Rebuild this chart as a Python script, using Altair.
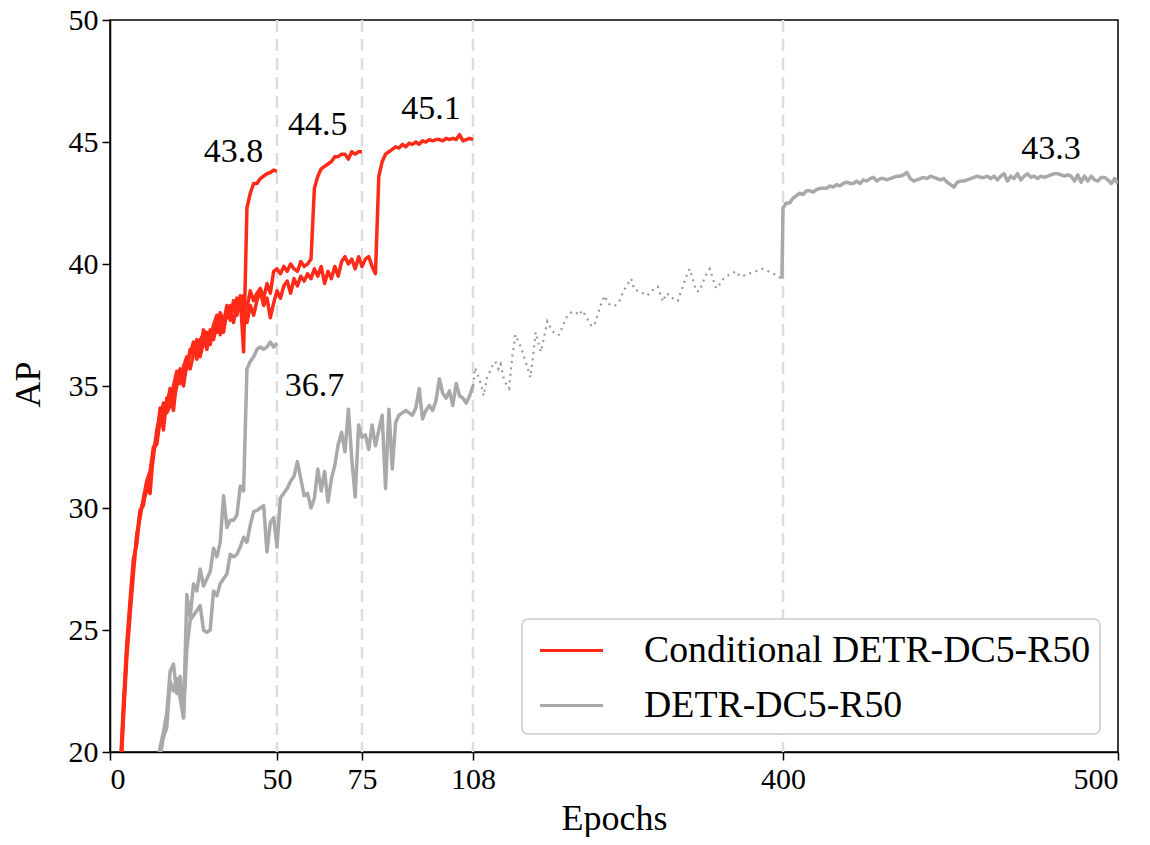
import altair as alt
import pandas as pd

COND = "Conditional DETR-DC5-R50"
DETR = "DETR-DC5-R50"

epoch_ticks = [0, 50, 75, 108, 400, 500]
ap_ticks = [20, 25, 30, 35, 40, 45, 50]
schedule_ends = [50, 75, 108, 400]

# Conditional DETR, 50-epoch schedule (epochs 1..50)
cond50_ap = [12.0, 15.5, 18.8, 21.6, 24.1, 25.9, 27.6, 28.8, 29.9, 30.1,
             31.0, 30.6, 32.3, 32.9, 34.1, 33.2, 34.5, 34.6, 34.0, 35.3,
             35.7, 35.0, 35.9, 36.3, 36.8, 36.1, 36.9, 37.1, 36.5, 37.3,
             36.9, 37.6, 37.8, 37.2, 38.1, 37.7, 38.5, 37.9, 38.7, 36.4,
             42.3, 42.9, 43.3, 43.3, 43.5, 43.6, 43.7, 43.75, 43.85, 43.8]

# Conditional DETR, 75-epoch schedule (epochs 1..75)
cond75_ap = [12.3, 15.8, 19.1, 21.9, 24.4, 26.2, 27.9, 28.5, 29.8, 30.3,
             30.7, 31.3, 32.1, 33.2, 33.8, 33.8, 34.2, 34.9, 34.4, 35.0,
             35.4, 35.6, 35.7, 36.5, 36.4, 36.6, 36.5, 37.3, 36.9, 37.0,
             37.4, 37.2, 38.0, 37.7, 37.8, 38.3, 38.1, 38.6, 38.4, 38.0,
             38.2, 38.9, 38.5, 38.8, 39.0, 38.6, 39.2, 38.8, 39.7, 39.8,
             39.6, 39.9, 39.7, 40.0, 39.8, 39.7, 40.1, 39.9, 40.0, 40.2,
             43.1, 43.6, 43.9, 44.0, 44.1, 44.2, 44.4, 44.4, 44.5, 44.5,
             44.3, 44.6, 44.5, 44.6, 44.6]

# Conditional DETR, 108-epoch schedule (epochs 1..108)
cond108_ap = [11.8, 15.2, 18.5, 21.3, 23.8, 25.6, 27.3, 28.9, 29.6, 30.4,
              31.1, 31.5, 32.5, 32.6, 33.6, 34.3, 33.9, 34.2, 35.0, 35.6,
              35.1, 35.8, 36.2, 35.7, 36.3, 36.9, 36.2, 36.8, 37.2, 36.7,
              37.5, 37.9, 37.1, 37.6, 38.3, 38.0, 37.6, 38.4, 38.2, 38.7,
              37.6, 38.3, 37.9, 38.5, 38.9, 38.3, 38.6, 37.8, 38.4, 38.9,
              38.6, 39.1, 39.3, 38.8, 39.4, 39.1, 39.5, 39.3, 39.6, 39.4,
              39.8, 39.5, 39.9, 39.2, 39.7, 39.4, 39.9, 39.5, 40.1, 40.3,
              40.0, 40.2, 39.8, 40.3, 39.9, 40.2, 40.3, 39.9, 39.6, 43.6,
              44.2, 44.5, 44.6, 44.7, 44.8, 44.75, 44.9, 44.8, 44.95, 44.9,
              45.0, 44.9, 45.05, 45.0, 45.1, 45.05, 45.1, 45.1, 45.05, 45.15,
              45.1, 45.15, 45.1, 45.3, 45.05, 45.1, 45.15, 45.1]

# DETR, 50-epoch schedule (epochs 14..50)
detr50_ap = [19.4, 20.2, 20.8, 21.6, 23.3, 23.6, 22.4, 23.1, 21.4, 26.45,
             25.5, 26.9, 26.6, 27.5, 26.8, 27.1, 27.4, 28.35, 28.0, 28.6,
             30.5, 29.2, 29.5, 29.5, 29.7, 30.9, 30.7, 35.7, 36.0, 36.2,
             36.5, 36.6, 36.5, 36.6, 36.8, 36.6, 36.75]

# DETR, 500-epoch schedule, solid part (epochs 15..108)
detr500_early_ap = [19.8, 20.6, 21.0, 22.9, 22.5, 23.0, 22.2, 21.4, 24.2, 25.4,
                    25.6, 25.8, 26.0, 25.0, 24.9, 25.0, 26.6, 26.4, 26.9, 27.1,
                    27.3, 28.1, 28.0, 28.1, 28.4, 28.8, 28.6, 29.3, 29.85, 29.9,
                    30.0, 30.1, 28.2, 29.4, 29.6, 28.4, 30.4, 30.6, 30.8, 31.1,
                    31.3, 31.9, 31.2, 30.5, 30.6, 30.0, 30.4, 31.6, 30.7, 31.5,
                    30.25, 31.2, 31.75, 32.6, 33.1, 32.3, 34.05, 32.0, 30.45, 33.4,
                    32.9, 33.0, 32.4, 33.4, 32.55, 33.2, 33.8, 30.8, 34.05, 31.6,
                    33.5, 33.8, 33.9, 34.0, 33.9, 33.8, 34.1, 34.9, 33.65, 34.0,
                    34.2, 34.0, 34.4, 35.3, 34.7, 34.5, 34.8, 34.2, 35.1, 34.6,
                    34.5, 34.3, 34.6, 35.0]

# DETR, 500-epoch schedule, dotted part (epochs 108..399)
detr500_mid_epochs = [108, 110, 113, 116, 118, 121, 124, 127, 129, 132, 134, 137, 140, 142,
                      145, 148, 150, 153, 156, 159, 162, 164, 167, 170, 172, 175, 178, 182,
                      186, 189, 193, 197, 200, 204, 208, 211, 215, 219, 222, 226, 229, 232,
                      235, 238, 242, 246, 250, 254, 257, 260, 264, 268, 272, 276, 280, 282,
                      285, 287, 290, 294, 298, 301, 305, 309, 312, 315, 318, 321, 325, 328,
                      331, 334, 337, 341, 344, 347, 351, 356, 359, 362, 367, 372, 377, 381,
                      386, 391, 395, 399]
detr500_mid_ap = [35.0, 35.75, 35.4, 35.0, 34.6, 35.3, 35.6, 35.9, 36.0, 35.7, 35.9, 35.3, 35.0, 34.9,
                  36.2, 37.1, 36.9, 36.6, 36.2, 35.8, 35.35, 36.0, 37.2, 36.7, 36.4, 37.0, 37.65, 37.3,
                  37.1, 37.1, 37.5, 37.9, 38.0, 38.05, 37.9, 38.1, 37.8, 37.5, 37.45, 38.0, 38.4, 38.7,
                  38.4, 38.3, 38.3, 38.5, 38.9, 39.2, 39.4, 38.95, 38.9, 38.8, 38.7, 38.9, 39.0, 39.07,
                  38.7, 38.46, 38.8, 38.7, 38.5, 38.5, 39.0, 39.5, 39.8, 39.4, 38.9, 38.87, 39.3, 39.6,
                  39.8, 39.4, 39.0, 39.2, 39.4, 39.5, 39.6, 39.7, 39.5, 39.5, 39.6, 39.65, 39.75, 39.8,
                  39.7, 39.6, 39.5, 39.4]

# DETR, 500-epoch schedule, solid part (epochs 399..500)
detr500_late_ap = [39.4,
                   42.3, 42.5, 42.5, 42.7, 42.8, 42.9, 42.85, 43.0, 43.0, 42.95,
                   43.05, 43.1, 43.1, 43.1, 43.2, 43.15, 43.25, 43.2, 43.3, 43.35,
                   43.3, 43.3, 43.4, 43.3, 43.45, 43.4, 43.5, 43.55, 43.4, 43.5,
                   43.5, 43.45, 43.5, 43.55, 43.6, 43.6, 43.65, 43.75, 43.5, 43.4,
                   43.45, 43.5, 43.55, 43.5, 43.6, 43.55, 43.5, 43.45, 43.5, 43.35,
                   43.25, 43.15, 43.35, 43.4, 43.4, 43.45, 43.5, 43.55, 43.6, 43.55,
                   43.55, 43.6, 43.5, 43.6, 43.45, 43.6, 43.7, 43.4, 43.6, 43.5,
                   43.7, 43.45, 43.6, 43.7, 43.55, 43.6, 43.5, 43.6, 43.55, 43.6,
                   43.65, 43.7, 43.7, 43.65, 43.6, 43.65, 43.6, 43.4, 43.65, 43.35,
                   43.6, 43.4, 43.6, 43.45, 43.4, 43.55, 43.55, 43.45, 43.3, 43.5,
                   43.3]

ann_text = ["43.8", "44.5", "45.1", "36.7", "43.3"]
ann_epoch = [37, 62, 95.5, 61, 480]
ann_ap = [44.6, 45.7, 46.35, 35.0, 44.7]

rows = []


def add(run, method, start, vals):
    for i, v in enumerate(vals):
        rows.append({"epoch": start + i, "ap": v, "run": run, "method": method})


add("cond50", COND, 1, cond50_ap)
add("cond75", COND, 1, cond75_ap)
add("cond108", COND, 1, cond108_ap)
add("detr50", DETR, 14, detr50_ap)
add("detr500a", DETR, 15, detr500_early_ap)
add("detr500b", DETR, 399, detr500_late_ap)
solid = pd.DataFrame(rows)

dotted = pd.DataFrame({"epoch": detr500_mid_epochs, "ap": detr500_mid_ap})
rules_df = pd.DataFrame({"epoch": schedule_ends})
ann_df = pd.DataFrame({"label": ann_text, "epoch": ann_epoch, "ap": ann_ap})

FONT = "Liberation Serif"
RED = "#ff2a17"
GRAY = "#a9a9a9"

x_scale = alt.Scale(domain=epoch_ticks, range=[0, 167, 252, 363, 673, 1008], nice=False, zero=False)
y_scale = alt.Scale(domain=[20, 50], nice=False, zero=False)

x_axis = alt.Axis(values=epoch_ticks, title="Epochs", titleY=77, titleBaseline="alphabetic")
y_axis = alt.Axis(values=ap_ticks, title="AP", titleX=-82, titleY=364, titleAngle=270,
                  titleAlign="center", titleBaseline="middle")

X = alt.X("epoch:Q", scale=x_scale, axis=x_axis)
Y = alt.Y("ap:Q", scale=y_scale, axis=y_axis)

rules = alt.Chart(rules_df).mark_rule(color="#dddddd", strokeWidth=2.5, strokeDash=[12, 7]).encode(
    x=X
)

dots = alt.Chart(dotted).mark_line(color="#999999", strokeWidth=2.2, strokeDash=[2, 4.5], clip=True).encode(
    x=X, y=Y
)

lines = alt.Chart(solid).mark_line(strokeWidth=3.5, clip=True, strokeJoin="round").encode(
    x=X, y=Y,
    color=alt.Color("method:N", scale=alt.Scale(domain=[COND, DETR], range=[RED, GRAY]),
                    legend=alt.Legend(title=None)),
    detail="run:N",
)

labels = alt.Chart(ann_df).mark_text(font=FONT, fontSize=34, color="black", align="center",
                                     baseline="middle").encode(
    x=X, y=Y, text="label:N",
)

chart = alt.layer(rules, dots, lines, labels).properties(
    width=1008, height=732,
    padding={"left": 102, "top": 12, "right": 24, "bottom": 85},
    autosize=alt.AutoSizeParams(type="none"),
).configure_view(
    stroke="black", strokeWidth=1.5
).configure_axis(
    labelFont=FONT, labelFontSize=30, labelColor="black", labelPadding=4,
    tickColor="black", tickSize=8, tickWidth=1.5,
    domainColor="black", domainWidth=1.5, grid=False,
    titleFont=FONT, titleFontSize=36, titleFontWeight="normal", titleColor="black",
).configure_legend(
    orient="bottom-right", offset=18, padding=9,
    strokeColor="#cccccc", strokeWidth=1.5, cornerRadius=6, fillColor="white",
    symbolType="M-1.5,0H1.5", symbolSize=1764, symbolStrokeWidth=3, symbolOffset=18,
    labelFont=FONT, labelFontSize=37.8, labelColor="black", labelOffset=50,
    rowPadding=13, labelLimit=800,
)

chart.save("out.html", embed_options={"renderer": "svg", "actions": False})
